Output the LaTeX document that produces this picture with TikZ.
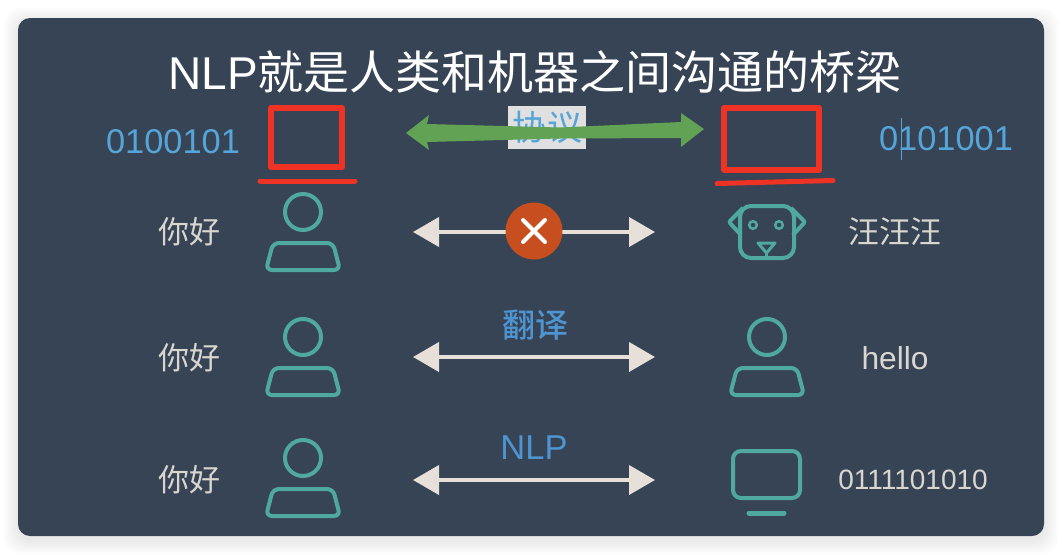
\documentclass[tikz,border=0pt]{standalone}
\usepackage{fontspec}
\setmainfont{Liberation Sans}
\newfontfamily\cjk{Noto Sans CJK SC}
\newfontfamily\cjkmid{Noto Sans CJK SC Medium}
\usetikzlibrary{arrows.meta,positioning,calc}
\definecolor{slate}{HTML}{374455}
\definecolor{teal1}{HTML}{4FA9A0}
\definecolor{sand}{HTML}{E6E0D8}
\definecolor{word}{HTML}{D9D6D0}
\definecolor{sky}{HTML}{56A5D8}
\definecolor{azure}{HTML}{4E94D0}
\definecolor{redmark}{HTML}{EE3224}
\definecolor{leaf}{HTML}{62A254}
\definecolor{rust}{HTML}{C74E1E}

\tikzset{
  wordtext/.style={text=word, inner sep=0pt, font=\fontsize{31}{35}\selectfont\cjk},
  bits/.style={text=sky, inner sep=0pt, font=\fontsize{34.4}{38}\selectfont},
  exch/.style={draw=sand, line width=4pt, {Triangle[length=26pt,width=29pt]}-{Triangle[length=26pt,width=29pt]}},
  icon/.style={draw=teal1, line width=4pt},
  redbox/.style={draw=redmark, line width=6pt, line join=round},
  redline/.style={draw=redmark, line width=5pt, line cap=round},
  person/.pic={
    \draw[icon] (0,0) circle (18);
    \draw[icon, rounded corners=6pt] (-30,31) -- (30,31) -- (37,58) -- (-37,58) -- cycle;
  }
}

\begin{document}
\begin{tikzpicture}[x=1pt,y=-1pt]
\useasboundingbox (0,0) rectangle (1062,554);
\fill[white] (0,0) rectangle (1062,554);
% soft shadow round the card
\foreach \s in {14,12,...,2}
  \fill[black, opacity=0.012, rounded corners=16pt] (18-\s,18-\s+4) rectangle (1044+\s,536+\s+4);
\fill[slate, rounded corners=12pt] (18,18) rectangle (1044,536);

\node[inner sep=0pt, text=white, font=\fontsize{46}{52}\selectfont] (title) at (535,72) {NLP\cjk 就是人类和机器之间沟通的桥梁};

% protocol row
\node[fill=black!12!white, text=sky, minimum width=78pt, minimum height=43pt, inner sep=0pt, font=\fontsize{35}{40}\selectfont\cjk] (proto) at (547,127.5) {协议};
\node[bits] (bitsl) at (173,142) {0100101};
\node[bits] (bitsr) at (946,139) {0101001};
\draw[sky, line width=1pt] (901,118) -- (901,160);
\draw[redbox] (271,108) rectangle (342,167);
\draw[redline] (260,181) -- (355,181);
\draw[redbox] (724,108) rectangle (819,170);
\draw[redline] (717,183.5) -- (833,180.5);
\coordinate (protol) at (406,133);
\coordinate (protor) at (704,129);
\fill[leaf] (protol) -- (429,115) -- (427,124) -- (560,127.5) -- (681,122) -- (681,113) -- (protor)
  -- (681,147) -- (681,138) -- (560,138.5) -- (427,142) -- (429,150) -- cycle;

% dog row
\node[wordtext] (hi1) at (189,232) {你好};
\pic at (303,212) {person};
\coordinate (a1l) at (413,232);
\coordinate (a1r) at (655,232);
\draw[exch] (a1l) -- (a1r);
\node[circle, fill=rust, minimum size=57pt, inner sep=0pt] (no) at (534,231) {};
\draw[white, line width=4pt, line cap=round] ($(no)+(-11,-11)$) -- ($(no)+(11,11)$);
\draw[white, line width=4pt, line cap=round] ($(no)+(-11,11)$) -- ($(no)+(11,-11)$);
\draw[icon, rounded corners=2pt] (743,208) -- (729,222) -- (741,235);
\draw[icon, rounded corners=2pt] (791,208) -- (805,222) -- (793,235);
\draw[icon, rounded corners=11pt] (740,206) rectangle (794,258);
\draw[teal1, line width=2.5pt] (753,225) circle (3.8);
\draw[teal1, line width=2.5pt] (779,225) circle (3.8);
\draw[teal1, line width=3pt, line join=round] (758,243) -- (775,243) -- (766.5,253) -- cycle;
\draw[teal1, line width=3pt] (766.5,253) -- (766.5,258);
\node[wordtext] (woof) at (895,232) {汪汪汪};

% translate row
\node[wordtext] (hi2) at (189,358) {你好};
\pic at (303,337) {person};
\coordinate (a2l) at (413,357);
\coordinate (a2r) at (655,357);
\draw[exch] (a2l) -- (a2r);
\node[inner sep=0pt, text=azure, font=\fontsize{33}{38}\selectfont\cjkmid] (trans) at (535,325) {翻译};
\pic at (767,337) {person};
\node[wordtext, font=\fontsize{31.7}{35}\selectfont] (hello) at (895,358) {hello};

% nlp row
\node[wordtext] (hi3) at (189,480) {你好};
\pic at (303,458) {person};
\coordinate (a3l) at (413,480);
\coordinate (a3r) at (655,480);
\draw[exch] (a3l) -- (a3r);
\node[inner sep=0pt, text=azure, font=\fontsize{34.5}{38}\selectfont] (nlp) at (534,448) {NLP};
\draw[icon, rounded corners=8pt] (733,451) rectangle (800,498);
\draw[teal1, line width=5pt, line cap=round] (749,513) -- (784,513);
\node[wordtext, font=\fontsize{28}{30}\selectfont] (code) at (913,480) {0111101010};
\end{tikzpicture}
\end{document}
